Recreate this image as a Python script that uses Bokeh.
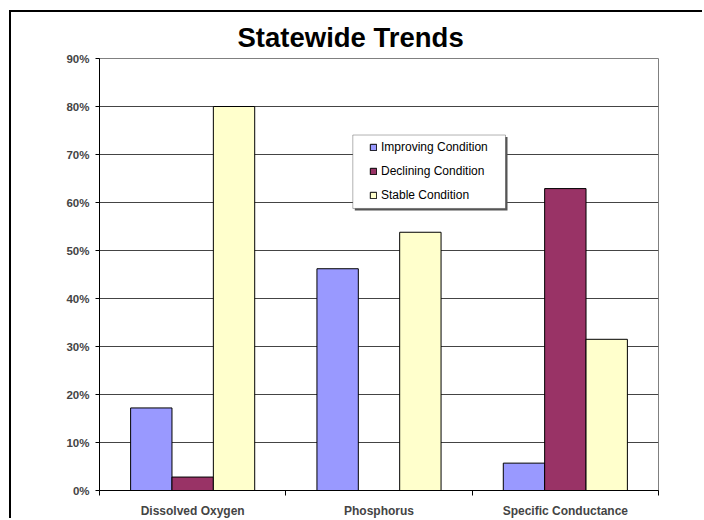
from bokeh.plotting import figure
from bokeh.models import (ColumnDataSource, Range1d, FixedTicker, BoxAnnotation)
from bokeh.embed import file_html
from bokeh.resources import INLINE
from bokeh.transform import dodge

# ---- data ----
categories = ["Dissolved Oxygen", "Phosphorus", "Specific Conductance"]
improving = [17.2, 46.2, 5.7]
declining = [2.8, 0.0, 62.9]
stable = [80.0, 53.8, 31.5]
series_names = ["Improving Condition", "Declining Condition", "Stable Condition"]
y_ticks = [0, 10, 20, 30, 40, 50, 60, 70, 80, 90]
y_tick_labels = {t: f"{t}%" for t in y_ticks}

colors = ["#9999FF", "#993366", "#FFFFCC"]
FONT = "Liberation Sans"

cat_x = [i + 0.5 for i in range(len(categories))]
src = ColumnDataSource(dict(x=cat_x, improving=improving, declining=declining, stable=stable))

p = figure(width=693, height=508, output_backend="svg", toolbar_location=None,
           x_range=Range1d(0, 3), y_range=Range1d(0, 90),
           min_border_left=88, min_border_right=46, min_border_top=46, min_border_bottom=29,
           tools="", title="Statewide Trends")
p.styles = {"margin-left": "9px", "margin-top": "10px",
            "border-left": "2px solid black", "border-top": "2px solid black"}
p.background_fill_color = "white"
p.border_fill_color = "white"
p.outline_line_color = "#808080"
p.outline_line_width = 1

p.title.align = "left"
p.title.offset = 138
p.title.standoff = 12
p.title.text_font = FONT
p.title.text_font_style = "bold"
p.title.text_font_size = "27.5px"
p.title.text_color = "black"

bw = 0.222
for key, off, col, name in zip(["improving", "declining", "stable"], [-bw, 0.0, bw], colors, series_names):
    p.vbar(x=dodge("x", off, range=p.x_range), top=key, width=bw, source=src,
           fill_color=col, line_color="black", line_width=1, legend_label=name)

# axes
p.xaxis.ticker = FixedTicker(ticks=cat_x, minor_ticks=[0, 1, 2, 3])
p.xaxis.major_label_overrides = {x: c for x, c in zip(cat_x, categories)}
p.xaxis.major_tick_line_color = None
p.xaxis.minor_tick_in = 0
p.xaxis.minor_tick_out = 5
p.xaxis.minor_tick_line_color = "black"
p.xaxis.major_label_standoff = 7
p.xaxis.major_label_text_font = FONT
p.xaxis.major_label_text_font_style = "bold"
p.xaxis.major_label_text_font_size = "12px"
p.xaxis.axis_line_color = "black"

p.yaxis.ticker = FixedTicker(ticks=y_ticks)
p.yaxis.major_label_overrides = y_tick_labels
p.yaxis.major_tick_in = 0
p.yaxis.major_tick_out = 4
p.yaxis.minor_tick_line_color = None
p.yaxis.major_label_standoff = 6
p.yaxis.major_label_text_font = FONT
p.yaxis.major_label_text_font_style = "bold"
p.yaxis.major_label_text_font_size = "11.5px"
p.yaxis.axis_line_color = "black"

p.xgrid.grid_line_color = None
p.ygrid.grid_line_color = "#444444"
p.ygrid.grid_line_width = 1

# legend box (shadow + box) and legend entries
px_x = 3 / 559.0
px_y = 90 / 433.0
lb_left, lb_right = 253.3 * px_x, 406.0 * px_x
lb_top, lb_bottom = 356.3 * px_y, 282.7 * px_y
p.add_layout(BoxAnnotation(left=lb_left + 2 * px_x, right=lb_right + 2 * px_x,
                           top=lb_top - 2 * px_y, bottom=lb_bottom - 2 * px_y,
                           fill_color="#555555", fill_alpha=1, line_color=None))
p.add_layout(BoxAnnotation(left=lb_left, right=lb_right, top=lb_top, bottom=lb_bottom,
                           fill_color="white", fill_alpha=1, line_color="black", line_width=1))

lg = p.legend[0]
lg.location = (270, 288)
lg.padding = 0
lg.margin = 0
lg.spacing = 10
lg.label_height = 14
lg.glyph_width = 8
lg.glyph_height = 8
lg.label_standoff = 4
lg.border_line_color = None
lg.background_fill_alpha = 0
lg.label_text_font = FONT
lg.label_text_font_size = "12px"
lg.label_text_color = "black"

open("out.html", "w").write(file_html(p, INLINE))
